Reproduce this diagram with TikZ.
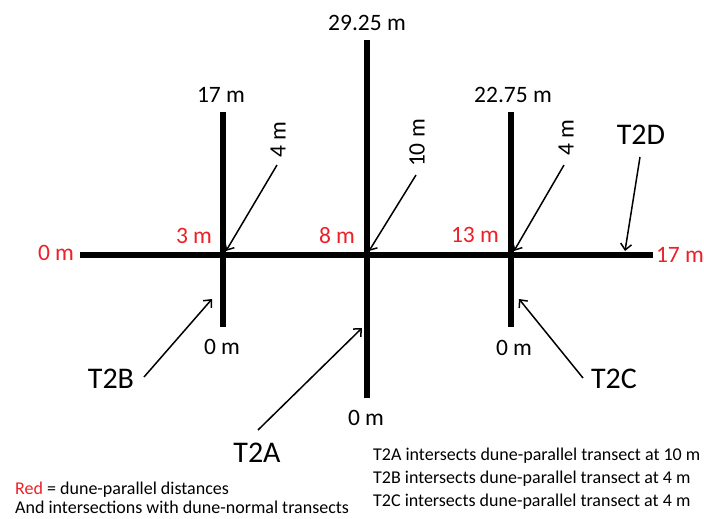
\documentclass[tikz,border=0pt]{standalone}
\usepackage{fontspec}
\setmainfont{Carlito}
\usetikzlibrary{arrows.meta}
\definecolor{distred}{RGB}{236,32,40}
\begin{document}
\begin{tikzpicture}[x=1pt,y=-1pt,
  transect/.style={line width=5.5pt},
  pointer/.style={line width=1.5pt,-{Straight Barb[length=6pt,width=11pt]}},
  lbl/.style={font=\fontsize{23.5}{28}\selectfont, inner sep=0pt, anchor=base},
  distlbl/.style={lbl, text=distred},
  rotlbl/.style={font=\fontsize{23.5}{28}\selectfont, inner sep=0pt, rotate=90, anchor=center},
  tname/.style={font=\fontsize{30}{36}\selectfont, inner sep=0pt, anchor=base},
  note/.style={font=\fontsize{18}{22}\selectfont, inner sep=0pt, anchor=base west}]
\useasboundingbox (0,0) rectangle (704,519);

% transect end points
\coordinate (pL) at (80,255);
\coordinate (pR) at (653,255);
\coordinate (bTop) at (223,112);
\coordinate (bBot) at (223,327);
\coordinate (aTop) at (367,40);
\coordinate (aBot) at (367,398);
\coordinate (cTop) at (511,112);
\coordinate (cBot) at (511,327);

\draw[transect] (pL) -- (pR);
\draw[transect] (bTop) -- (bBot);
\draw[transect] (aTop) -- (aBot);
\draw[transect] (cTop) -- (cBot);

% end labels of dune-normal transects
\node[lbl] (bTopLbl) at (221,102) {17 m};
\node[lbl] (aTopLbl) at (367,31) {29.25 m};
\node[lbl] (cTopLbl) at (513,102) {22.75 m};
\node[lbl] (bBotLbl) at (222,354) {0 m};
\node[lbl] (aBotLbl) at (366,425) {0 m};
\node[lbl] (cBotLbl) at (514,355) {0 m};

% dune-parallel distances (red)
\node[distlbl] (d0) at (56,260) {0 m};
\node[distlbl] (d3) at (194,243) {3 m};
\node[distlbl] (d8) at (337,243) {8 m};
\node[distlbl] (d13) at (475,242) {13 m};
\node[distlbl] (d17) at (680,262) {17 m};

% intersection distances on the dune-parallel transect
\node[rotlbl] (i4b) at (278,140) {4 m};
\node[rotlbl] (i10) at (417,143) {10 m};
\node[rotlbl] (i4c) at (566,138) {4 m};
\coordinate (i4bS) at (277,165);
\coordinate (i10S) at (416,175);
\coordinate (i4cS) at (564,165);
\coordinate (xB) at (226,251);
\coordinate (xA) at (369,251);
\coordinate (xC) at (514,251);
\draw[pointer] (i4bS) -- (xB);
\draw[pointer] (i10S) -- (xA);
\draw[pointer] (i4cS) -- (xC);

% transect names
\node[tname] (T2B) at (111,388) {T2B};
\node[tname] (T2A) at (257,462) {T2A};
\node[tname] (T2C) at (614,388) {T2C};
\node[tname] (T2D) at (641,144) {T2D};
\coordinate (T2Bs) at (144,377);
\coordinate (T2Be) at (212,299);
\coordinate (T2As) at (258,430);
\coordinate (T2Ae) at (362,328);
\coordinate (T2Cs) at (583,378);
\coordinate (T2Ce) at (519,299);
\coordinate (T2Ds) at (640,157);
\coordinate (T2De) at (625,251);
\draw[pointer] (T2Bs) -- (T2Be);
\draw[pointer] (T2As) -- (T2Ae);
\draw[pointer] (T2Cs) -- (T2Ce);
\draw[pointer] (T2Ds) -- (T2De);

% notes
\node[note] (n1) at (373,460) {T2A intersects dune-parallel transect at 10 m};
\node[note] (n2) at (373,483) {T2B intersects dune-parallel transect at 4 m};
\node[note] (n3) at (373,506) {T2C intersects dune-parallel transect at 4 m};
\node[note] (n4) at (15,494) {\textcolor{distred}{Red} = dune-parallel distances};
\node[note] (n5) at (15,513) {And intersections with dune-normal transects};
\end{tikzpicture}
\end{document}
